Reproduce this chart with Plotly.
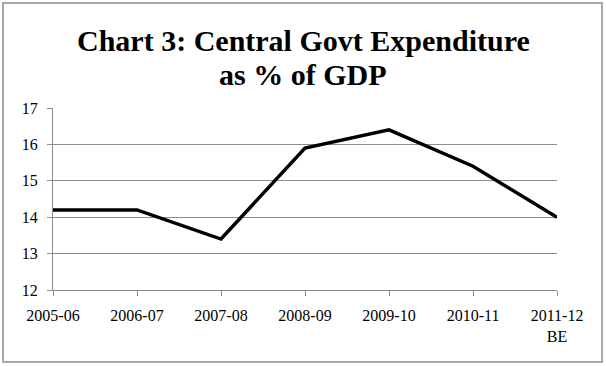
import plotly.graph_objects as go

years = ["2005-06", "2006-07", "2007-08", "2008-09", "2009-10", "2010-11", "2011-12<br>BE"]
expenditure = [14.2, 14.2, 13.4, 15.9, 16.4, 15.4, 14.0]
y_ticks = [12, 13, 14, 15, 16, 17]
title_lines = ["Chart 3: Central Govt Expenditure", "as % of GDP"]

W, H = 606, 366
L, R, T, B = 53, 557, 108, 290

fig = go.Figure()
fig.add_trace(go.Scatter(
    x=years, y=expenditure, mode="lines",
    line=dict(color="black", width=3.5),
    hoverinfo="skip",
))

def px_x(p):
    return (p - L) / (R - L)

def px_y(p):
    return (B - p) / (B - T)

fig.add_shape(type="rect", xref="paper", yref="paper",
              x0=px_x(3), x1=px_x(602), y0=px_y(362), y1=px_y(3),
              line=dict(color="#a8a8a8", width=2), layer="below")

for line_text, ypix in zip(title_lines, [40, 74]):
    fig.add_annotation(
        text="<b>" + line_text + "</b>", showarrow=False,
        xref="paper", yref="paper", x=px_x(W / 2), y=px_y(ypix),
        xanchor="center", yanchor="middle",
        font=dict(family="Liberation Serif", size=30, color="black"),
    )

fig.update_layout(
    width=W, height=H,
    margin=dict(l=L, r=W - R, t=T, b=H - B),
    paper_bgcolor="white", plot_bgcolor="white",
    showlegend=False,
    font=dict(family="Liberation Serif", size=16, color="black"),
    xaxis=dict(
        type="category", range=[0, 6],
        showgrid=False, showline=True, linecolor="#8c8c8c", linewidth=1,
        ticks="outside", ticklen=5, tickcolor="#8c8c8c",
        ticklabelstandoff=6,
        tickfont=dict(family="Liberation Serif", size=16, color="black"),
        fixedrange=True,
    ),
    yaxis=dict(
        range=[12, 17], tickvals=y_ticks,
        showgrid=True, gridcolor="#8c8c8c", gridwidth=1,
        showline=True, linecolor="#8c8c8c", linewidth=1,
        ticks="outside", ticklen=5, tickcolor="#8c8c8c",
        ticklabelstandoff=6,
        tickfont=dict(family="Liberation Serif", size=16, color="black"),
        zeroline=False, fixedrange=True,
    ),
)

fig.write_html("out.html", config={"displayModeBar": False},
               post_script="document.body.style.margin='0';document.body.style.overflow='hidden';")
